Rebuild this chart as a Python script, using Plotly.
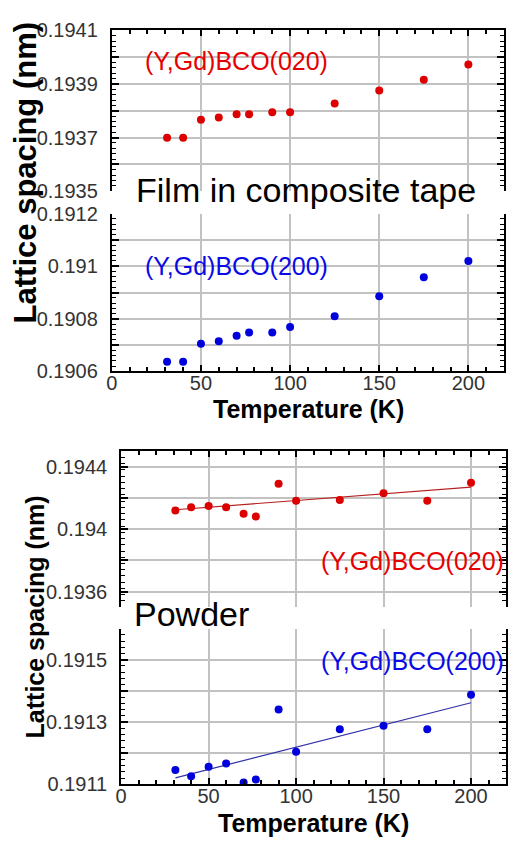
import plotly.graph_objects as go

# ---------------- data ----------------
temps = [31, 40, 50, 60, 70, 77, 90, 100, 125, 150, 175, 200]

film_020 = [0.19370, 0.19370, 0.193767, 0.193775, 0.193787, 0.193787,
            0.193795, 0.193795, 0.193827, 0.193876, 0.193916, 0.193973]
film_200 = [0.190637, 0.190637, 0.190705, 0.190715, 0.190736, 0.190748,
            0.190748, 0.190769, 0.190810, 0.190886, 0.190958, 0.191020]
powder_020 = [0.194120, 0.194141, 0.194149, 0.194141, 0.194099, 0.194081,
              0.194292, 0.194182, 0.194188, 0.194230, 0.194182, 0.194298]
powder_200 = [0.191146, 0.191126, 0.191157, 0.191167, 0.191106, 0.191116,
              0.191340, 0.191205, 0.191277, 0.191288, 0.191277, 0.191388]

fit_temps = [31, 200]
fit_powder_020 = [0.194125, 0.194270]
fit_powder_200 = [0.191121, 0.191362]

x_tickvals = [0, 50, 100, 150, 200]
x_ticktext = ["0", "50", "100", "150", "200"]

film_020_tickvals = [0.1935, 0.1936, 0.1937, 0.1938, 0.1939, 0.1940, 0.1941]
film_020_ticktext = ["0.1935", "", "0.1937", "", "0.1939", "", "0.1941"]
film_200_tickvals = [0.1906, 0.1907, 0.1908, 0.1909, 0.1910, 0.1911, 0.1912]
film_200_ticktext = ["0.1906", "", "0.1908", "", "0.191", "", "0.1912"]
powder_020_tickvals = [0.1936, 0.1938, 0.1940, 0.1942, 0.1944]
powder_020_ticktext = ["0.1936", "", "0.194", "", "0.1944"]
powder_200_tickvals = [0.1911, 0.1912, 0.1913, 0.1914, 0.1915, 0.1916]
powder_200_ticktext = ["0.1911", "", "0.1913", "", "0.1915", ""]

label_020 = "(Y,Gd)BCO(020)"
label_200 = "(Y,Gd)BCO(200)"

# ---------------- style ----------------
W, H = 508, 849
RED = "#dd0000"
RED_TXT = "#e60000"
BLUE = "#0000dd"
BLUE_TXT = "#0a0ae6"
GRID = "#c2c2c2"
FONT = "Liberation Sans, Arial, sans-serif"
TICKFONT = dict(family=FONT, size=20, color="#333333")


def px(x):
    return x / W


def py(y):
    return 1 - y / H


fig = go.Figure()

fig.add_trace(go.Scatter(x=temps, y=film_020, mode="markers",
                         marker=dict(color=RED, size=8), xaxis="x", yaxis="y"))
fig.add_trace(go.Scatter(x=temps, y=film_200, mode="markers",
                         marker=dict(color=BLUE, size=8), xaxis="x2", yaxis="y2"))
fig.add_trace(go.Scatter(x=fit_temps, y=fit_powder_020, mode="lines",
                         line=dict(color="#b82020", width=1.2), xaxis="x3", yaxis="y3"))
fig.add_trace(go.Scatter(x=temps, y=powder_020, mode="markers",
                         marker=dict(color=RED, size=8), xaxis="x3", yaxis="y3"))
fig.add_trace(go.Scatter(x=fit_temps, y=fit_powder_200, mode="lines",
                         line=dict(color="#3030a8", width=1.2), xaxis="x4", yaxis="y4"))
fig.add_trace(go.Scatter(x=temps, y=powder_200, mode="markers",
                         marker=dict(color=BLUE, size=8), xaxis="x4", yaxis="y4"))


def xax(domain, anchor, side, labels):
    return dict(domain=domain, anchor=anchor, side=side, range=[0, 220],
                tickmode="array", tickvals=x_tickvals, ticktext=x_ticktext,
                showticklabels=labels, tickfont=TICKFONT, ticklabelstandoff=-7,
                ticks="inside", ticklen=6, tickwidth=1.5, tickcolor="black",
                showline=True, linecolor="black", linewidth=2, mirror=False,
                showgrid=True, gridcolor=GRID, gridwidth=1.5, zeroline=False,
                minor=dict(tickmode="linear", tick0=0, dtick=10, ticks="inside",
                           ticklen=4, tickwidth=1.5, tickcolor="black", showgrid=False),
                fixedrange=True)


def yax(domain, anchor, rng, tv, tt, mdt):
    return dict(domain=domain, anchor=anchor, range=rng,
                tickmode="array", tickvals=tv, ticktext=tt, tickfont=TICKFONT,
                ticks="inside", ticklen=7, tickwidth=1.5, tickcolor="black",
                showline=True, linecolor="black", linewidth=2, mirror="ticks",
                showgrid=True, gridcolor=GRID, gridwidth=1.5, zeroline=False,
                minor=dict(tickmode="linear", tick0=rng[0], dtick=mdt, ticks="inside",
                           ticklen=4, tickwidth=1.3, tickcolor="black", showgrid=False),
                ticklabelstandoff=8, fixedrange=True)


top_x = [px(107.5), px(506)]
bot_x = [px(117), 1.0]

fig.update_layout(
    width=W, height=H,
    margin=dict(l=0, r=0, t=0, b=0),
    paper_bgcolor="white", plot_bgcolor="white",
    showlegend=False,
    font=dict(family=FONT),
    xaxis=xax(top_x, "y", "top", False),
    yaxis=yax([py(185), py(20)], "x", [0.19349999, 0.1941], film_020_tickvals, film_020_ticktext, 0.00002),
    xaxis2=xax(top_x, "y2", "bottom", True),
    yaxis2=yax([py(370), py(208)], "x2", [0.1906, 0.19120001], film_200_tickvals, film_200_ticktext, 0.00002),
    xaxis3=xax(bot_x, "y3", "top", False),
    yaxis3=yax([py(612), py(452)], "x3", [0.1935, 0.1945], powder_020_tickvals, powder_020_ticktext, 0.00004),
    xaxis4=xax(bot_x, "y4", "bottom", True),
    yaxis4=yax([py(794), py(634)], "x4", [0.1911, 0.19160001], powder_200_tickvals, powder_200_ticktext, 0.00002),
)

ann = []


def text(x, y, s, size, color="black", bold=False, angle=0, xanchor="left"):
    ann.append(dict(x=px(x), y=py(y), xref="paper", yref="paper", text=(f"<b>{s}</b>" if bold else s),
                    showarrow=False, xanchor=xanchor, yanchor="middle", textangle=angle,
                    font=dict(family=FONT, size=size, color=color)))


text(139, 51, label_020, 25, RED_TXT)
text(139, 262, label_200, 25, BLUE_TXT)
text(318, 565, label_020, 25, RED_TXT)
text(318, 667, label_200, 25, BLUE_TXT)
text(130, 184, "Film in composite tape", 34)
text(128, 619, "Powder", 34)
text(307, 409, "Temperature (K)", 25, bold=True, xanchor="center")
text(312, 834, "Temperature (K)", 25, bold=True, xanchor="center")
text(20, 166, "Lattice spacing (nm)", 31, bold=True, angle=-90, xanchor="center")
text(29, 622, "Lattice spacing (nm)", 25, bold=True, angle=-90, xanchor="center")

fig.update_layout(annotations=ann)

fig.write_html("out.html")
